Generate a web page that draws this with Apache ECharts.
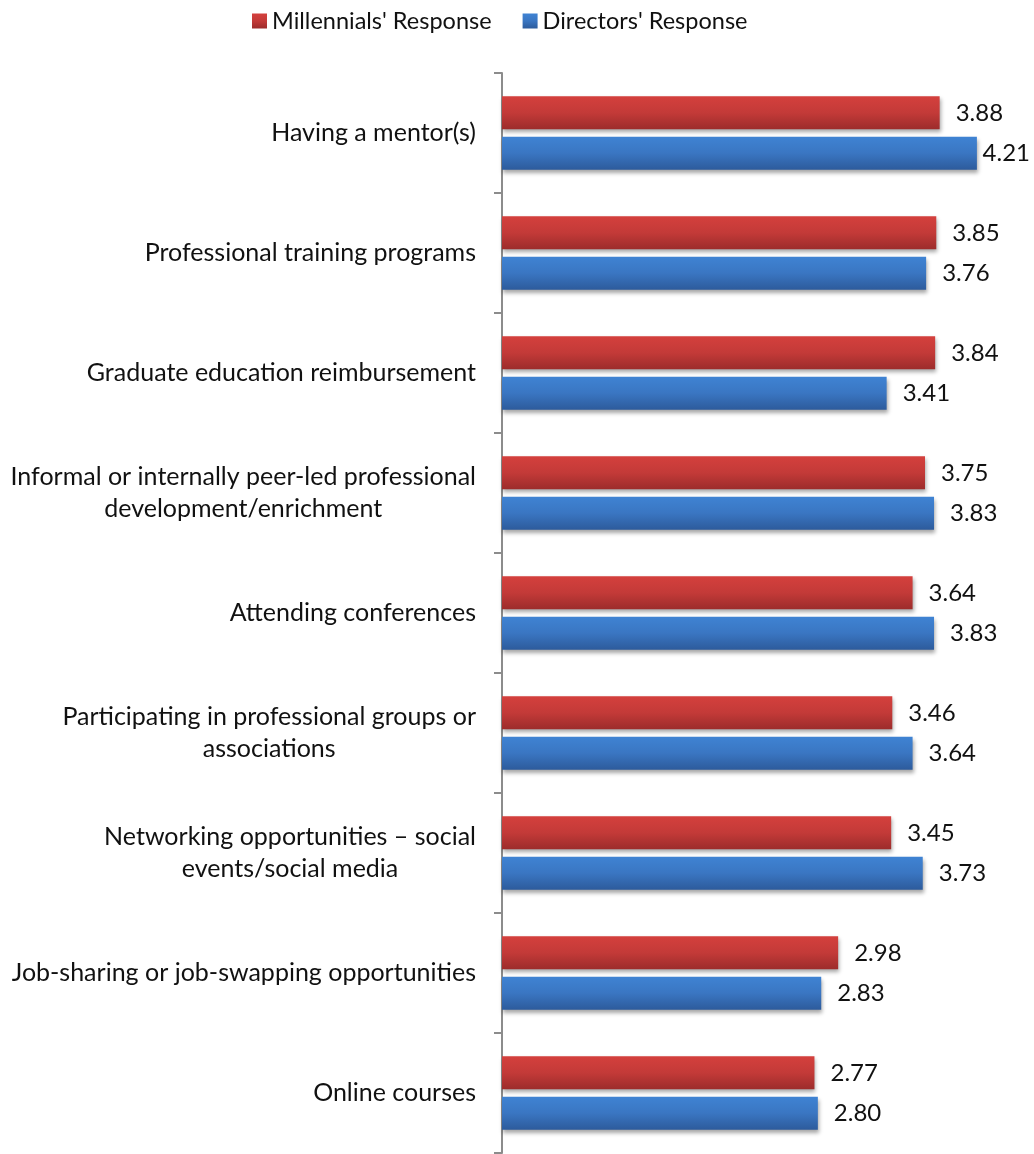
<!DOCTYPE html>
<html>
<head>
<meta charset="utf-8">
<script src="https://cdn.jsdelivr.net/npm/echarts@6/dist/echarts.min.js"></script>
<style>
  html, body { margin: 0; padding: 0; background: #fff; }
  #chart { width: 1034px; height: 1154px; }
</style>
</head>
<body>
<div id="chart"></div>
<script>
// categories, top to bottom
const categories = [
    'Having a mentor(s)',
    'Professional training programs',
    'Graduate education reimbursement',
    'Informal or internally peer-led professional\ndevelopment/enrichment',
    'Attending conferences',
    'Participating in professional groups or\nassociations',
    'Networking opportunities – social\nevents/social media',
    'Job-sharing or job-swapping opportunities',
    'Online courses'
];
const millennials = [3.88, 3.85, 3.84, 3.75, 3.64, 3.46, 3.45, 2.98, 2.77];
const directors = [4.21, 3.76, 3.41, 3.83, 3.83, 3.64, 3.73, 2.83, 2.80];

const FONT = 'Lato';

const redGrad = new echarts.graphic.LinearGradient(0, 0, 0, 1, [
    { offset: 0, color: '#d4403d' },
    { offset: 0.5, color: '#c33a38' },
    { offset: 1, color: '#9c2c2b' }
]);
const blueGrad = new echarts.graphic.LinearGradient(0, 0, 0, 1, [
    { offset: 0, color: '#3f83d3' },
    { offset: 0.5, color: '#3a76c2' },
    { offset: 1, color: '#2d5b9c' }
]);

const myChart = echarts.init(document.getElementById('chart'));

const barLabel = {
    show: true,
    position: 'right',
    distance: 16,
    color: '#111',
    fontFamily: FONT,
    fontSize: 24,
    formatter: p => p.value.toFixed(2)
};
const shadow = {
    shadowColor: 'rgba(0,0,0,0.35)',
    shadowBlur: 4,
    shadowOffsetX: 1,
    shadowOffsetY: 3
};
// 标签超出右边界时往左挪（跟 Excel 一样）
const keepInside = p => {
    const r = p.labelRect;
    if (r.x + r.width > 1030) {
        return { x: 1030 - r.width, y: r.y, align: 'left', verticalAlign: 'top' };
    }
    return {};
};

const option = {
    animation: false,
    legend: {
        top: 4,
        left: 247,
        itemWidth: 15,
        itemHeight: 15,
        itemGap: 31,
        icon: 'rect',
        textStyle: {
            color: '#111',
            fontFamily: FONT,
            fontSize: 23.5
        },
        data: ["Millennials' Response", "Directors' Response"]
    },
    grid: {
        left: 502,
        right: 24.4,
        top: 73,
        bottom: 1,
        containLabel: false
    },
    xAxis: {
        type: 'value',
        min: 0,
        max: 4.5,
        show: false
    },
    yAxis: {
        type: 'category',
        inverse: true,
        data: categories,
        axisLine: {
            show: true,
            lineStyle: { color: '#8c8c8c', width: 2 }
        },
        axisTick: {
            show: true,
            length: 8,
            lineStyle: { color: '#8c8c8c', width: 2 }
        },
        axisLabel: {
            margin: 26,
            formatter: v => v.split('\n').map(l => '{c|' + l + '}').join('\n'),
            rich: {
                c: {
                    align: 'center',
                    color: '#111',
                    fontFamily: FONT,
                    fontSize: 25,
                    lineHeight: 32
                }
            }
        }
    },
    series: [
        {
            name: "Millennials' Response",
            type: 'bar',
            data: millennials,
            barWidth: 33,
            barGap: '22%',
            itemStyle: Object.assign({ color: redGrad }, shadow),
            label: barLabel,
            labelLayout: keepInside
        },
        {
            name: "Directors' Response",
            type: 'bar',
            data: directors,
            barWidth: 33,
            itemStyle: Object.assign({ color: blueGrad }, shadow),
            label: barLabel,
            labelLayout: keepInside
        }
    ]
};

myChart.setOption(option);
window.addEventListener('resize', () => {
    myChart.resize();
});
</script>
</body>
</html>
